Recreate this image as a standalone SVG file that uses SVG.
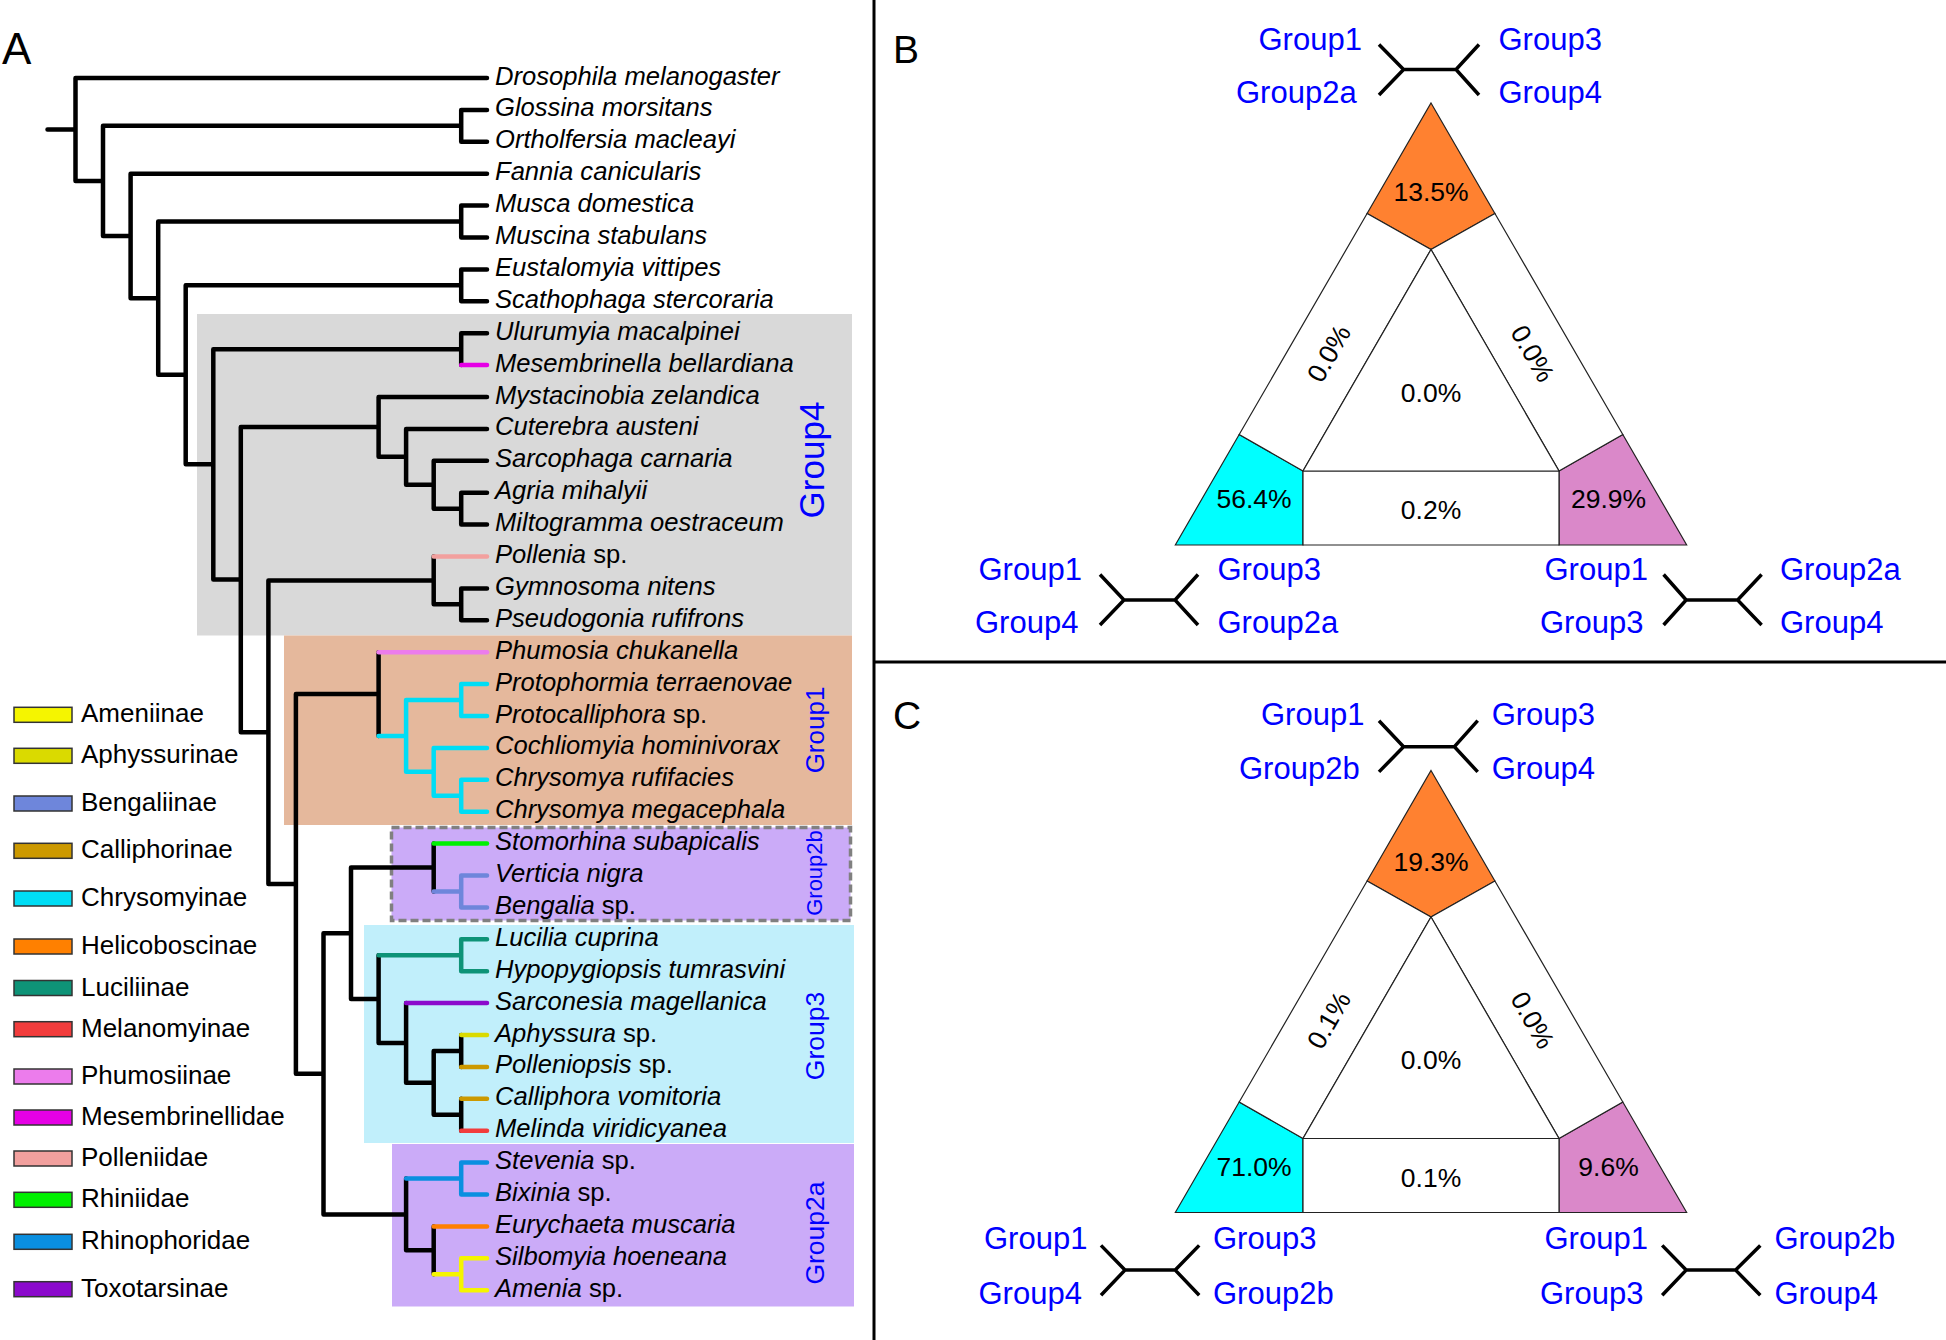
<svg xmlns="http://www.w3.org/2000/svg" width="1946" height="1340" viewBox="0 0 1946 1340">
<style>
text{font-family:"Liberation Sans",Arial,sans-serif;}
.tip{font-size:25.6px;font-style:italic;fill:#000}
.up{font-style:normal}
.leg{font-size:26px;fill:#000}
.grp{fill:#0000FF;text-anchor:middle}
.br{fill:none;stroke-width:4.5;stroke-linecap:round;stroke-linejoin:round}
.sw{stroke:#333;stroke-width:1.5}
.tri{stroke:#222;stroke-width:1.2}
.qt{fill:none;stroke:#000;stroke-width:3.5}
.pct{font-size:26.5px;text-anchor:middle;fill:#000}
.q{font-size:31px;fill:#0000FF}
.lab{font-size:39px;fill:#000}
</style>
<rect width="1946" height="1340" fill="#fff"/>

<!-- dividers -->
<g id="dividers" stroke="#000" stroke-width="3">
<line x1="874" y1="0" x2="874" y2="1340"/>
<line x1="874" y1="662" x2="1946" y2="662"/>
</g>

<!-- Panel A -->
<text class="lab" x="2" y="64" style="font-size:44px">A</text>

<g id="group-boxes">
<rect id="box-group4" x="197" y="314" width="655" height="321.5" fill="#D9D9D9"/>
<rect id="box-group1" x="284" y="635.5" width="568" height="189.5" fill="#E5B89C"/>
<rect id="box-group2b" x="391.5" y="827.5" width="459" height="93" fill="#CBABF8" stroke="#808080" stroke-width="3.5" stroke-dasharray="8 4"/>
<rect id="box-group3" x="364" y="925" width="490" height="218" fill="#C1EFFB"/>
<rect id="box-group2a" x="392" y="1144" width="462" height="162.5" fill="#CBABF8"/>
</g>

<g id="group-labels">
<text class="grp" transform="translate(824,460) rotate(-90)" style="font-size:35px">Group4</text>
<text class="grp" transform="translate(823.5,730) rotate(-90)" style="font-size:26px">Group1</text>
<text class="grp" transform="translate(822,873) rotate(-90)" style="font-size:22px">Group2b</text>
<text class="grp" transform="translate(823.5,1036) rotate(-90)" style="font-size:26.5px">Group3</text>
<text class="grp" transform="translate(823.5,1233) rotate(-90)" style="font-size:26.5px">Group2a</text>
</g>

<g id="tree-connectors">
<path class="br" stroke="#000" d="M47.5,129.45H75.5 M75.5,78V180.9 M75.5,78H487 M75.5,180.9H103
M103,125.85V235.95 M103,125.85H461.2 M103,235.95H130.6
M461.2,109.9V141.8 M461.2,109.9H487 M461.2,141.8H487
M130.6,173.7V298.2 M130.6,173.7H487 M130.6,298.2H158.2
M158.2,221.55V374.85 M158.2,221.55H461.2 M158.2,374.85H185.7
M461.2,205.6V237.5 M461.2,205.6H487 M461.2,237.5H487
M185.7,285.35V464.35 M185.7,285.35H461.2 M185.7,464.35H213.3
M461.2,269.4V301.3 M461.2,269.4H487 M461.2,301.3H487
M213.3,349.15V579.55 M213.3,349.15H461.2 M213.3,579.55H240.8
M461.2,333.2V365.1 M461.2,333.2H487
M240.8,426.9V732.2 M240.8,426.9H378.6 M240.8,732.2H268.4
M378.6,397V456.8 M378.6,397H487 M378.6,456.8H406.1
M406.1,428.9V484.7 M406.1,428.9H487 M406.1,484.7H433.7
M433.7,460.8V508.65 M433.7,460.8H487 M433.7,508.65H461.2
M461.2,492.7V524.6 M461.2,492.7H487 M461.2,524.6H487
M268.4,580.4V883.95 M268.4,580.4H433.7 M268.4,883.95H295.9
M433.7,556.5V604.35 M433.7,604.35H461.2
M461.2,588.4V620.3 M461.2,588.4H487 M461.2,620.3H487
M295.9,694.05V1073.85 M295.9,694.05H378.6 M295.9,1073.85H323.5
M378.6,652.2V735.9
M323.5,933.3V1214.4 M323.5,933.3H351 M323.5,1214.4H406.1
M351,867.5V999.1 M351,867.5H433.7 M351,999.1H378.6
M433.7,843.6V891.45
M378.6,955.25V1042.98 M378.6,1042.98H406.1
M406.1,1003.1V1082.85 M406.1,1082.85H433.7
M433.7,1050.95V1114.75 M433.7,1050.95H461.2 M433.7,1114.75H461.2
M461.2,1035V1066.9
M461.2,1098.8V1130.7
M406.1,1178.55V1250.3 M406.1,1250.3H433.7
M433.7,1226.4V1274.25"/>
<path class="br" stroke="#E600E6" d="M461.2,365.1H487"/>
<path class="br" stroke="#F2A09E" d="M433.7,556.5H487"/>
<path class="br" stroke="#EC7CEC" d="M378.6,652.2H487"/>
<path class="br" stroke="#00DDF5" d="M378.6,735.9H406.1 M406.1,700.05V771.8 M406.1,700.05H461.2 M461.2,684.1V716 M461.2,684.1H487 M461.2,716H487 M406.1,771.8H433.7 M433.7,747.9V795.75 M433.7,747.9H487 M433.7,795.75H461.2 M461.2,779.8V811.7 M461.2,779.8H487 M461.2,811.7H487"/>
<path class="br" stroke="#00F000" d="M433.7,843.6H487"/>
<path class="br" stroke="#6E86DB" d="M433.7,891.45H461.2 M461.2,875.5V907.4 M461.2,875.5H487 M461.2,907.4H487"/>
<path class="br" stroke="#0E9377" d="M378.6,955.25H461.2 M461.2,939.3V971.2 M461.2,939.3H487 M461.2,971.2H487"/>
<path class="br" stroke="#8B0ACC" d="M406.1,1003.1H487"/>
<path class="br" stroke="#DADA00" d="M461.2,1035H487"/>
<path class="br" stroke="#CC9900" d="M461.2,1066.9H487 M461.2,1098.8H487"/>
<path class="br" stroke="#F23C3C" d="M461.2,1130.7H487"/>
<path class="br" stroke="#0A8FE0" d="M406.1,1178.55H461.2 M461.2,1162.6V1194.5 M461.2,1162.6H487 M461.2,1194.5H487"/>
<path class="br" stroke="#FF8000" d="M433.7,1226.4H487"/>
<path class="br" stroke="#F5F500" d="M433.7,1274.25H461.2 M461.2,1258.3V1290.2 M461.2,1258.3H487 M461.2,1290.2H487"/>
</g>

<g id="tips">
<g id="tip-0"><text class="tip" x="495" y="84.5">Drosophila melanogaster</text></g>
<g id="tip-1"><text class="tip" x="495" y="116.4">Glossina morsitans</text></g>
<g id="tip-2"><text class="tip" x="495" y="148.3">Ortholfersia macleayi</text></g>
<g id="tip-3"><text class="tip" x="495" y="180.2">Fannia canicularis</text></g>
<g id="tip-4"><text class="tip" x="495" y="212.1">Musca domestica</text></g>
<g id="tip-5"><text class="tip" x="495" y="244">Muscina stabulans</text></g>
<g id="tip-6"><text class="tip" x="495" y="275.9">Eustalomyia vittipes</text></g>
<g id="tip-7"><text class="tip" x="495" y="307.8">Scathophaga stercoraria</text></g>
<g id="tip-8"><text class="tip" x="495" y="339.7">Ulurumyia macalpinei</text></g>
<g id="tip-9"><text class="tip" x="495" y="371.6">Mesembrinella bellardiana</text></g>
<g id="tip-10"><text class="tip" x="495" y="403.5">Mystacinobia zelandica</text></g>
<g id="tip-11"><text class="tip" x="495" y="435.4">Cuterebra austeni</text></g>
<g id="tip-12"><text class="tip" x="495" y="467.3">Sarcophaga carnaria</text></g>
<g id="tip-13"><text class="tip" x="495" y="499.2">Agria mihalyii</text></g>
<g id="tip-14"><text class="tip" x="495" y="531.1">Miltogramma oestraceum</text></g>
<g id="tip-15"><text class="tip" x="495" y="563">Pollenia<tspan class="up"> sp.</tspan></text></g>
<g id="tip-16"><text class="tip" x="495" y="594.9">Gymnosoma nitens</text></g>
<g id="tip-17"><text class="tip" x="495" y="626.8">Pseudogonia rufifrons</text></g>
<g id="tip-18"><text class="tip" x="495" y="658.7">Phumosia chukanella</text></g>
<g id="tip-19"><text class="tip" x="495" y="690.6">Protophormia terraenovae</text></g>
<g id="tip-20"><text class="tip" x="495" y="722.5">Protocalliphora<tspan class="up"> sp.</tspan></text></g>
<g id="tip-21"><text class="tip" x="495" y="754.4">Cochliomyia hominivorax</text></g>
<g id="tip-22"><text class="tip" x="495" y="786.3">Chrysomya rufifacies</text></g>
<g id="tip-23"><text class="tip" x="495" y="818.2">Chrysomya megacephala</text></g>
<g id="tip-24"><text class="tip" x="495" y="850.1">Stomorhina subapicalis</text></g>
<g id="tip-25"><text class="tip" x="495" y="882">Verticia nigra</text></g>
<g id="tip-26"><text class="tip" x="495" y="913.9">Bengalia<tspan class="up"> sp.</tspan></text></g>
<g id="tip-27"><text class="tip" x="495" y="945.8">Lucilia cuprina</text></g>
<g id="tip-28"><text class="tip" x="495" y="977.7">Hypopygiopsis tumrasvini</text></g>
<g id="tip-29"><text class="tip" x="495" y="1009.6">Sarconesia magellanica</text></g>
<g id="tip-30"><text class="tip" x="495" y="1041.5">Aphyssura<tspan class="up"> sp.</tspan></text></g>
<g id="tip-31"><text class="tip" x="495" y="1073.4">Polleniopsis<tspan class="up"> sp.</tspan></text></g>
<g id="tip-32"><text class="tip" x="495" y="1105.3">Calliphora vomitoria</text></g>
<g id="tip-33"><text class="tip" x="495" y="1137.2">Melinda viridicyanea</text></g>
<g id="tip-34"><text class="tip" x="495" y="1169.1">Stevenia<tspan class="up"> sp.</tspan></text></g>
<g id="tip-35"><text class="tip" x="495" y="1201">Bixinia<tspan class="up"> sp.</tspan></text></g>
<g id="tip-36"><text class="tip" x="495" y="1232.9">Eurychaeta muscaria</text></g>
<g id="tip-37"><text class="tip" x="495" y="1264.8">Silbomyia hoeneana</text></g>
<g id="tip-38"><text class="tip" x="495" y="1296.7">Amenia<tspan class="up"> sp.</tspan></text></g>
</g>

<g id="legend">
<g id="leg-ameniinae"><rect class="sw" x="14" y="707.3" width="58" height="15" fill="#F5F500"/><text class="leg" x="81" y="722.3">Ameniinae</text></g>
<g id="leg-aphyssurinae"><rect class="sw" x="14" y="748.3" width="58" height="15" fill="#DADA00"/><text class="leg" x="81" y="763.3">Aphyssurinae</text></g>
<g id="leg-bengaliinae"><rect class="sw" x="14" y="796" width="58" height="15" fill="#6E86DB"/><text class="leg" x="81" y="811">Bengaliinae</text></g>
<g id="leg-calliphorinae"><rect class="sw" x="14" y="843.3" width="58" height="15" fill="#CC9900"/><text class="leg" x="81" y="858.3">Calliphorinae</text></g>
<g id="leg-chrysomyinae"><rect class="sw" x="14" y="891" width="58" height="15" fill="#00DDF5"/><text class="leg" x="81" y="906">Chrysomyinae</text></g>
<g id="leg-helicoboscinae"><rect class="sw" x="14" y="939" width="58" height="15" fill="#FF8000"/><text class="leg" x="81" y="954">Helicoboscinae</text></g>
<g id="leg-luciliinae"><rect class="sw" x="14" y="980.5" width="58" height="15" fill="#0E9377"/><text class="leg" x="81" y="995.5">Luciliinae</text></g>
<g id="leg-melanomyinae"><rect class="sw" x="14" y="1021.7" width="58" height="15" fill="#F23C3C"/><text class="leg" x="81" y="1036.7">Melanomyinae</text></g>
<g id="leg-phumosiinae"><rect class="sw" x="14" y="1069" width="58" height="15" fill="#EC7CEC"/><text class="leg" x="81" y="1084">Phumosiinae</text></g>
<g id="leg-mesembrinellidae"><rect class="sw" x="14" y="1110" width="58" height="15" fill="#E600E6"/><text class="leg" x="81" y="1125">Mesembrinellidae</text></g>
<g id="leg-polleniidae"><rect class="sw" x="14" y="1151" width="58" height="15" fill="#F2A09E"/><text class="leg" x="81" y="1166">Polleniidae</text></g>
<g id="leg-rhiniidae"><rect class="sw" x="14" y="1192.3" width="58" height="15" fill="#00F000"/><text class="leg" x="81" y="1207.3">Rhiniidae</text></g>
<g id="leg-rhinophoridae"><rect class="sw" x="14" y="1234.3" width="58" height="15" fill="#0A8FE0"/><text class="leg" x="81" y="1249.3">Rhinophoridae</text></g>
<g id="leg-toxotarsinae"><rect class="sw" x="14" y="1281.7" width="58" height="15" fill="#8B0ACC"/><text class="leg" x="81" y="1296.7">Toxotarsinae</text></g>
</g>

<!-- Panel B -->
<text class="lab" x="893" y="63">B</text>
<g id="panelB">
<g id="B-triangle">
<polygon class="tri" fill="#FF8130" points="1431,103 1494.9,213.5 1431,249.5 1367.1,213.5"/>
<polygon class="tri" fill="#00FFFF" points="1175.3,545 1239.2,434.5 1303,471 1303,545"/>
<polygon class="tri" fill="#DA88C9" points="1686.7,545 1622.8,434.5 1559,471 1559,545"/>
<polygon class="tri" fill="#fff" points="1367.1,213.5 1431,249.5 1303,471 1239.2,434.5"/>
<polygon class="tri" fill="#fff" points="1494.9,213.5 1622.8,434.5 1559,471 1431,249.5"/>
<polygon class="tri" fill="#fff" points="1303,471 1559,471 1559,545 1303,545"/>
<polygon class="tri" fill="#fff" points="1431,249.5 1559,471 1303,471"/>
</g>
<g id="B-values">
<text class="pct" x="1431" y="200.5">13.5%</text>
<text class="pct" x="1431" y="401.7">0.0%</text>
<text class="pct" x="1254" y="508.3">56.4%</text>
<text class="pct" x="1431" y="519">0.2%</text>
<text class="pct" x="1608.5" y="508.3">29.9%</text>
<text class="pct" transform="translate(1328.5,353.3) rotate(-60)" y="9.5">0.0%</text>
<text class="pct" transform="translate(1533,353.3) rotate(60)" y="9.5">0.0%</text>
</g>
<g id="B-quartet-top">
<path class="qt" d="M1379,44.5L1403.6,69.5L1379,95 M1403.6,69.5H1456 M1479,44.5L1456,69.5L1479,95"/>
<text class="q" x="1258.5" y="50">Group1</text>
<text class="q" x="1236" y="103">Group2a</text>
<text class="q" x="1498.5" y="50">Group3</text>
<text class="q" x="1498.5" y="103">Group4</text>
</g>
<g id="B-quartet-left">
<path class="qt" d="M1100,574.5L1124,600L1100,625 M1124,600H1175 M1198,574.5L1175,600L1198,625"/>
<text class="q" x="978.5" y="580">Group1</text>
<text class="q" x="975" y="633">Group4</text>
<text class="q" x="1217.5" y="580">Group3</text>
<text class="q" x="1217.5" y="633">Group2a</text>
</g>
<g id="B-quartet-right">
<path class="qt" d="M1663.6,574.5L1686.2,600L1663.6,625 M1686.2,600H1737.6 M1761.6,574.5L1737.6,600L1761.6,625"/>
<text class="q" x="1544.5" y="580">Group1</text>
<text class="q" x="1540" y="633">Group3</text>
<text class="q" x="1780" y="580">Group2a</text>
<text class="q" x="1780" y="633">Group4</text>
</g>
</g>

<!-- Panel C -->
<text class="lab" x="893" y="729">C</text>
<g id="panelC">
<g id="C-triangle" transform="translate(0,667.5)">
<polygon class="tri" fill="#FF8130" points="1431,103 1494.9,213.5 1431,249.5 1367.1,213.5"/>
<polygon class="tri" fill="#00FFFF" points="1175.3,545 1239.2,434.5 1303,471 1303,545"/>
<polygon class="tri" fill="#DA88C9" points="1686.7,545 1622.8,434.5 1559,471 1559,545"/>
<polygon class="tri" fill="#fff" points="1367.1,213.5 1431,249.5 1303,471 1239.2,434.5"/>
<polygon class="tri" fill="#fff" points="1494.9,213.5 1622.8,434.5 1559,471 1431,249.5"/>
<polygon class="tri" fill="#fff" points="1303,471 1559,471 1559,545 1303,545"/>
<polygon class="tri" fill="#fff" points="1431,249.5 1559,471 1303,471"/>
</g>
<g id="C-values">
<text class="pct" x="1431" y="871">19.3%</text>
<text class="pct" x="1431" y="1068.5">0.0%</text>
<text class="pct" x="1254" y="1176">71.0%</text>
<text class="pct" x="1431" y="1187">0.1%</text>
<text class="pct" x="1608.5" y="1176">9.6%</text>
<text class="pct" transform="translate(1328.5,1020) rotate(-60)" y="9.5">0.1%</text>
<text class="pct" transform="translate(1533,1020) rotate(60)" y="9.5">0.0%</text>
</g>
<g id="C-quartet-top">
<path class="qt" d="M1379,720.7L1403.6,746.7L1379,771.9 M1403.6,746.7H1454.4 M1477.7,720.7L1454.4,746.7L1477.7,771.9"/>
<text class="q" x="1261" y="725">Group1</text>
<text class="q" x="1239" y="779.3">Group2b</text>
<text class="q" x="1491.7" y="725">Group3</text>
<text class="q" x="1491.7" y="779.3">Group4</text>
</g>
<g id="C-quartet-left">
<path class="qt" d="M1101,1245.4L1125,1270.1L1101,1295.3 M1125,1270.1H1175.2 M1199.2,1245.4L1175.2,1270.1L1199.2,1295.3"/>
<text class="q" x="984" y="1249">Group1</text>
<text class="q" x="978.5" y="1304">Group4</text>
<text class="q" x="1213" y="1249">Group3</text>
<text class="q" x="1213" y="1304">Group2b</text>
</g>
<g id="C-quartet-right">
<path class="qt" d="M1662.2,1245.4L1686.2,1270.1L1662.2,1295.3 M1686.2,1270.1H1735.6 M1760.3,1245.4L1735.6,1270.1L1760.3,1295.3"/>
<text class="q" x="1544.5" y="1249">Group1</text>
<text class="q" x="1540" y="1304">Group3</text>
<text class="q" x="1774.5" y="1249">Group2b</text>
<text class="q" x="1774.5" y="1304">Group4</text>
</g>
</g>
</svg>
